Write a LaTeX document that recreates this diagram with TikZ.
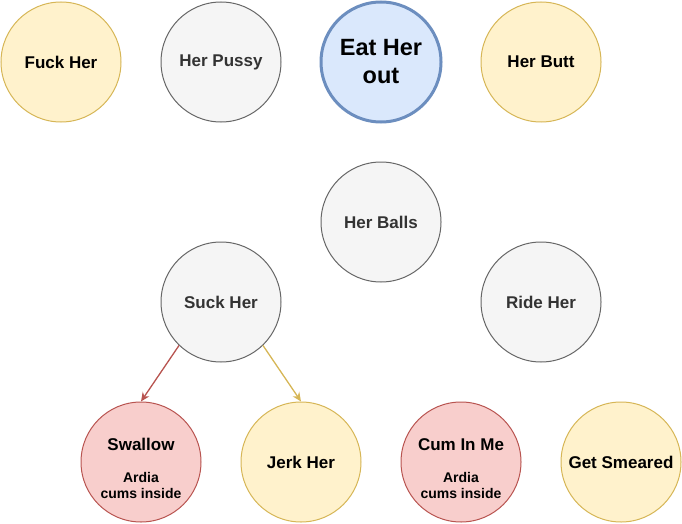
\documentclass[tikz,border=0pt]{standalone}
\usepackage{fontspec}
\setmainfont{Liberation Sans}
\usepackage{xcolor}
\usetikzlibrary{arrows.meta, positioning}

\definecolor{ylwfill}{HTML}{FFF2CC}
\definecolor{ylwline}{HTML}{D6B656}
\definecolor{gryfill}{HTML}{F5F5F5}
\definecolor{gryline}{HTML}{666666}
\definecolor{grytext}{HTML}{333333}
\definecolor{blufill}{HTML}{DAE8FC}
\definecolor{bluline}{HTML}{6C8EBF}
\definecolor{redfill}{HTML}{F8CECC}
\definecolor{redline}{HTML}{B85450}

\newcommand{\smalltxt}{\fontsize{14}{16}\selectfont}

\begin{document}
\begin{tikzpicture}[
    x=1pt, y=-1pt,
    act/.style={circle, draw, line width=1pt, minimum size=120pt, inner sep=0pt, align=center, font=\bfseries\fontsize{17}{20}\selectfont},
    ylw/.style={act, fill=ylwfill, draw=ylwline},
    gry/.style={act, fill=gryfill, draw=gryline, text=grytext},
    blu/.style={act, fill=blufill, draw=bluline, line width=3pt, font=\bfseries\fontsize{23.5}{28}\selectfont},
    red/.style={act, fill=redfill, draw=redline},
    line/.style={draw, -{Stealth[length=9pt, width=8pt]}, line width=1.3pt},
]
\useasboundingbox (0,0) rectangle (682,524);

% top row
\node [ylw] (fuck) at (61,62) {Fuck Her};
\node [gry] (pussy) at (221,62) {Her Pussy};
\node [blu] (eat) at (381,62) {Eat Her\\out};
\node [ylw] (butt) at (541,62) {Her Butt};

% middle
\node [gry] (balls) at (381,222) {Her Balls};
\node [gry] (suck) at (221,302) {Suck Her};
\node [gry] (ride) at (541,302) {Ride Her};

% bottom row
\node [red] (swallow) at (141,462) {\rule{0pt}{26pt}Swallow\\[12pt]{\smalltxt Ardia}\\[-4pt]{\smalltxt cums inside}};
\node [ylw] (jerk) at (301,462) {Jerk Her};
\node [red] (cumin) at (461,462) {\rule{0pt}{26pt}Cum In Me\\[12pt]{\smalltxt Ardia}\\[-4pt]{\smalltxt cums inside}};
\node [ylw] (smeared) at (621,462) {Get Smeared};

\path [line, draw=redline, fill=redline] (suck.226) -- (swallow.north);
\path [line, draw=ylwline, fill=ylwline] (suck.314) -- (jerk.north);
\end{tikzpicture}
\end{document}
